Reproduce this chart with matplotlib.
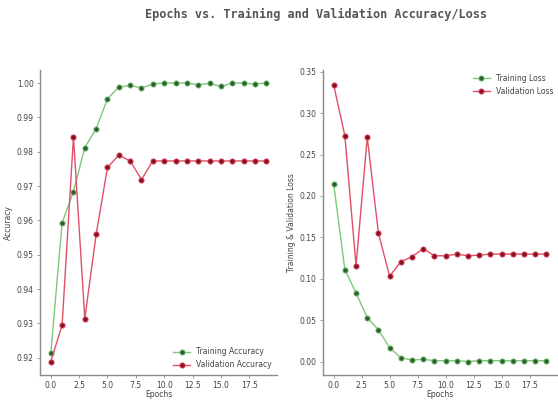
import matplotlib
matplotlib.use('Agg')
from matplotlib import pyplot as plt

epochs = list(range(20))

train_acc = [0.9213, 0.9593, 0.9684, 0.9812, 0.9867, 0.9954, 0.9988, 0.9993, 0.9986, 0.9997,
             1.0000, 1.0000, 1.0000, 0.9995, 0.9999, 0.9990, 1.0000, 1.0000, 0.9997, 1.0000]
val_acc = [0.9188, 0.9296, 0.9843, 0.9314, 0.9559, 0.9754, 0.9790, 0.9773, 0.9719, 0.9773,
           0.9773, 0.9773, 0.9773, 0.9773, 0.9773, 0.9773, 0.9773, 0.9773, 0.9773, 0.9773]

train_loss = [0.2143, 0.1111, 0.0829, 0.0532, 0.0385, 0.0167, 0.0048, 0.0020, 0.0028, 0.0012,
              0.0012, 0.0012, 0.0002, 0.0012, 0.0012, 0.0012, 0.0012, 0.0012, 0.0012, 0.0012]
val_loss = [0.3341, 0.2726, 0.1159, 0.2706, 0.1548, 0.1032, 0.1206, 0.1266, 0.1365, 0.1278,
            0.1278, 0.1298, 0.1278, 0.1286, 0.1298, 0.1298, 0.1298, 0.1298, 0.1298, 0.1298]

green_line = '#7cc87c'
green_dot = '#2f5f2f'
red_line = '#e05068'
red_dot = '#8a1020'
spine_col = '#8a8a8a'
text_col = '#444444'

fig = plt.figure(figsize=(5.58, 4.01), dpi=100)
ax1 = fig.add_axes([0.0717, 0.066, 0.4247, 0.7595])
ax2 = fig.add_axes([0.5789, 0.066, 0.4194, 0.7595])


def style(ax):
  for s in ['top', 'right']:
    ax.spines[s].set_visible(False)
  for s in ['left', 'bottom']:
    ax.spines[s].set_color(spine_col)
    ax.spines[s].set_linewidth(1.0)
  ax.tick_params(labelsize=5.5, colors=spine_col, labelcolor=text_col, length=2.5, width=0.6, pad=2)
  ax.set_xticks([0, 2.5, 5, 7.5, 10, 12.5, 15, 17.5])


mk = dict(linewidth=1.0, marker='o', markersize=3.8, markeredgewidth=0.6)

ax1.plot(epochs, train_acc, color=green_line, markerfacecolor=green_dot,
         markeredgecolor=green_line, label='Training Accuracy', **mk)
ax1.plot(epochs, val_acc, color=red_line, markerfacecolor=red_dot,
         markeredgecolor=red_line, label='Validation Accuracy', **mk)
style(ax1)
ax1.set_yticks([0.92, 0.93, 0.94, 0.95, 0.96, 0.97, 0.98, 0.99, 1.00])
ax1.set_ylim(0.9151, 1.0038)
ax1.set_xlabel('Epochs', fontsize=5.5, color=text_col, labelpad=0.5)
ax1.set_ylabel('Accuracy', fontsize=5.5, color=text_col, labelpad=3)
ax1.legend(loc='lower right', fontsize=5.5, frameon=False, handlelength=2.2,
           labelcolor=text_col, borderaxespad=0.3)

ax2.plot(epochs, train_loss, color=green_line, markerfacecolor=green_dot,
         markeredgecolor=green_line, label='Training Loss', **mk)
ax2.plot(epochs, val_loss, color=red_line, markerfacecolor=red_dot,
         markeredgecolor=red_line, label='Validation Loss', **mk)
style(ax2)
ax2.set_yticks([0.0, 0.05, 0.10, 0.15, 0.20, 0.25, 0.30, 0.35])
ax2.set_ylim(-0.0155, 0.352)
ax2.set_xlabel('Epochs', fontsize=5.5, color=text_col, labelpad=0.5)
ax2.set_ylabel('Training & Validation Loss', fontsize=5.5, color=text_col, labelpad=3)
ax2.legend(loc='upper right', fontsize=5.5, frameon=False, handlelength=2.2,
           labelcolor=text_col, borderaxespad=0.1)

fig.text(0.566, 0.963, 'Epochs vs. Training and Validation Accuracy/Loss',
         ha='center', va='center', fontsize=8.6, fontweight='bold',
         family='DejaVu Sans Mono', color='#555555')

plt.savefig('out.png', dpi=100)
